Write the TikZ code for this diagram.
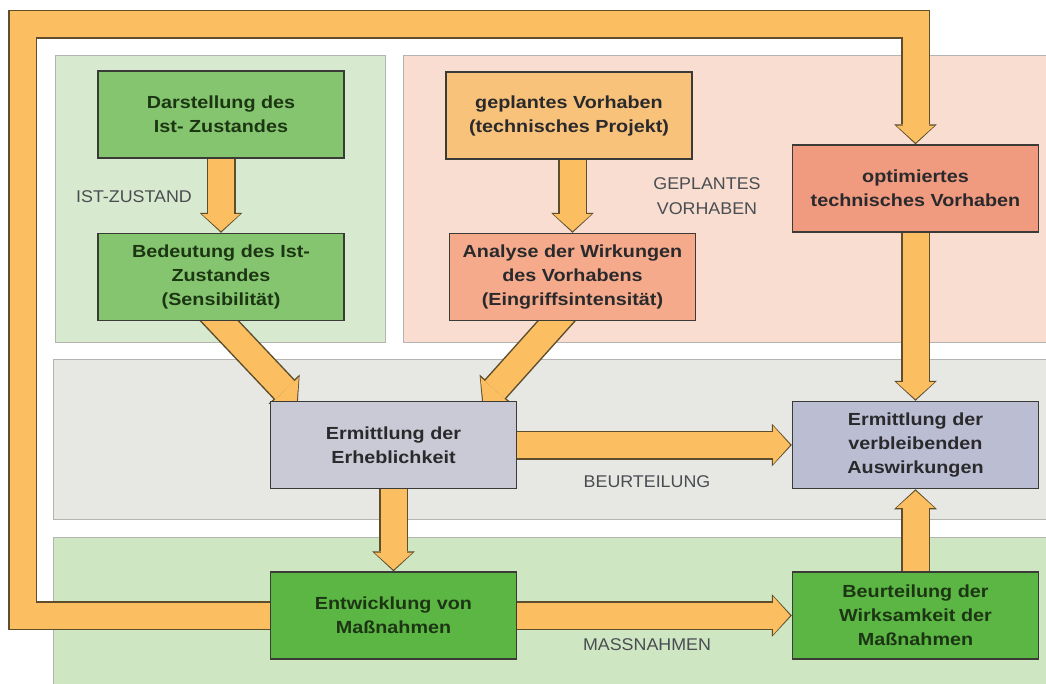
\documentclass[tikz,border=0pt]{standalone}
\usepackage{fontspec}
\setmainfont{Liberation Sans}
\newfontfamily\boxfont[FakeStretch=1.13]{Liberation Sans}
\newfontfamily\phasefont[FakeStretch=1.05]{Liberation Sans}
\usetikzlibrary{arrows.meta}

\pgfdeclarelayer{panels}
\pgfdeclarelayer{flows}
\pgfsetlayers{panels,flows,main}

\definecolor{panelist}{HTML}{D7EACF}
\definecolor{panelplan}{HTML}{F8DDD0}
\definecolor{panelbeur}{HTML}{E7E7E3}
\definecolor{panelmass}{HTML}{CFE6C3}
\definecolor{panelline}{HTML}{B4B4B0}
\definecolor{greenlight}{HTML}{86C56F}
\definecolor{greendark}{HTML}{5BB644}
\definecolor{orangebox}{HTML}{F8C27B}
\definecolor{salmonlight}{HTML}{F5AA8B}
\definecolor{salmondark}{HTML}{F09A80}
\definecolor{lavlight}{HTML}{C9CAD6}
\definecolor{lavdark}{HTML}{BBBDD3}
\definecolor{boxline}{HTML}{3A3A36}
\definecolor{flowfill}{HTML}{FBBF62}
\definecolor{flowline}{HTML}{5E4E2C}
\definecolor{greentext}{HTML}{1C3614}
\definecolor{boxtext}{HTML}{2A2A2C}
\definecolor{labelgray}{HTML}{4A4D52}

\begin{document}
\begin{tikzpicture}[x=1pt,y=-1pt]
\tikzset{
  procbox/.style={rectangle,draw=boxline,line width=1.5pt,minimum width=246pt,minimum height=87pt,inner sep=2pt,align=center,font=\boxfont\bfseries\fontsize{17.5}{24}\selectfont,text=boxtext},
  greenbox/.style={procbox,fill=greenlight,text=greentext},
  actbox/.style={procbox,fill=greendark,text=greentext},
  planbox/.style={procbox,fill=orangebox},
  effectbox/.style={procbox,fill=salmonlight},
  optbox/.style={procbox,fill=salmondark},
  evalbox/.style={procbox,fill=lavlight},
  restbox/.style={procbox,fill=lavdark},
  phaselabel/.style={align=center,font=\phasefont\fontsize{17}{25}\selectfont,text=labelgray},
  panel/.style={draw=panelline,line width=0.8pt},
  fatarrow/.style={
    preaction={draw=flowline,line width=29pt,line join=miter,shorten >=0pt,
      -{Triangle[length=20pt,width=43pt,line width=0pt]}},
    draw=flowfill,line width=26pt,line join=miter,shorten >=1.6pt,
    -{Triangle[length=17pt,width=38pt,line width=0pt]}
  }
}
\useasboundingbox (0,0) rectangle (1046,683);
\clip (0,0) rectangle (1046,683);

% phase panels
\begin{pgfonlayer}{panels}
\fill[white] (0,0) rectangle (1046,683);
\filldraw[panel,fill=panelist] (55,55) rectangle (385,342);
\filldraw[panel,fill=panelplan] (403,55) rectangle (1060,342);
\filldraw[panel,fill=panelbeur] (53,359) rectangle (1060,519);
\filldraw[panel,fill=panelmass] (53,537) rectangle (1060,700);
\end{pgfonlayer}

\node[phaselabel] (l_ist) at (134.00,197.00) {IST-ZUSTAND};
\node[phaselabel] (l_plan) at (707.00,196.00) {GEPLANTES\\VORHABEN};
\node[phaselabel] (l_beur) at (647.00,482.00) {BEURTEILUNG};
\node[phaselabel] (l_mass) at (647.00,645.00) {MASSNAHMEN};

% boxes
\node[greenbox] (n_darst) at (221.00,114.50) {Darstellung des\\Ist- Zustandes};
\node[greenbox] (n_bedeut) at (221.00,277.00) {Bedeutung des Ist-\\Zustandes\\(Sensibilität)};
\node[planbox] (n_geplant) at (569.00,115.50) {geplantes Vorhaben\\(technisches Projekt)};
\node[effectbox] (n_analyse) at (572.50,277.00) {Analyse der Wirkungen\\des Vorhabens\\(Eingriffsintensität)};
\node[optbox] (n_optim) at (915.50,188.50) {optimiertes\\technisches Vorhaben};
\node[evalbox] (n_erheb) at (393.50,445.00) {Ermittlung der\\Erheblichkeit};
\node[restbox] (n_verbl) at (915.50,445.00) {Ermittlung der\\verbleibenden\\Auswirkungen};
\node[actbox] (n_entw) at (393.50,615.50) {Entwicklung von\\Maßnahmen};
\node[actbox] (n_wirks) at (915.50,615.50) {Beurteilung der\\Wirksamkeit der\\Maßnahmen};

% feedback loop
\coordinate (c_loopbl) at (22.50,615.50);
\coordinate (c_looptl) at (22.50,24.00);
\coordinate (c_looptr) at (915.50,24.00);

\begin{pgfonlayer}{flows}
\draw[fatarrow] (n_darst) -- (n_bedeut);
\draw[fatarrow] (n_geplant.south -| n_analyse) -- (n_analyse);
\draw[fatarrow] ([xshift=-21pt,yshift=21pt]n_bedeut.south) -- ([xshift=28pt,yshift=-3pt]n_erheb.north west);
\draw[fatarrow] ([xshift=2.5pt,yshift=21pt]n_analyse.south) -- ([xshift=-35pt,yshift=-3pt]n_erheb.north east);
\draw[fatarrow] (n_optim) -- (n_verbl);
\draw[fatarrow] (n_erheb) -- (n_verbl);
\draw[fatarrow] (n_erheb) -- (n_entw);
\draw[fatarrow] (n_entw) -- (n_wirks);
\draw[fatarrow] (n_wirks) -- (n_verbl);
\draw[fatarrow] (n_entw.west) -- (c_loopbl) -- (c_looptl) -- (c_looptr) -- (n_optim.north);
\end{pgfonlayer}
\end{tikzpicture}
\end{document}
